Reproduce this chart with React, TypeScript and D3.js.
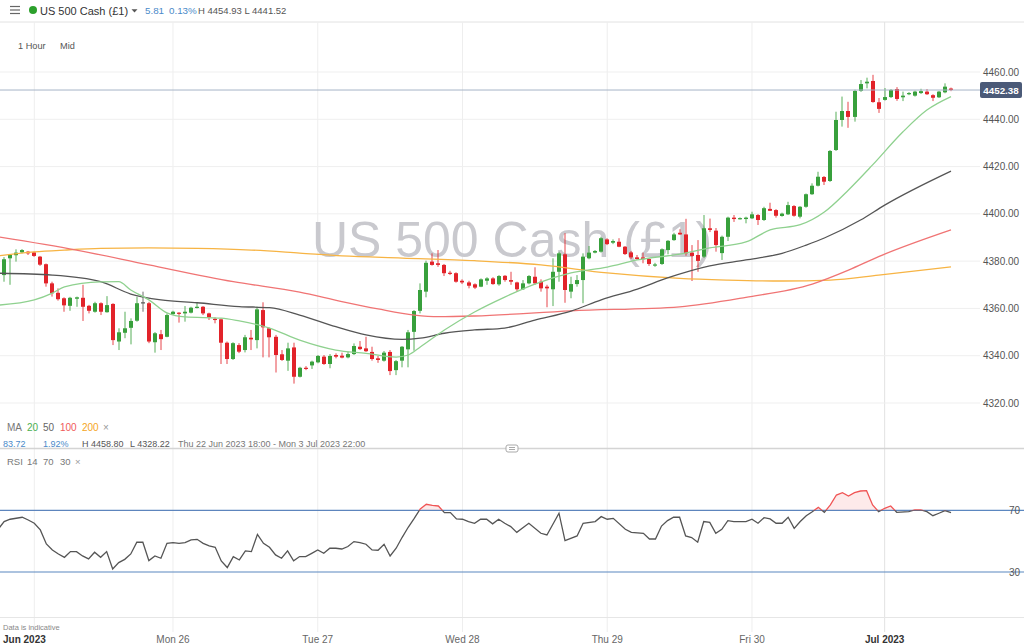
import React from "react";
import * as d3 from "d3";

const W = 1024;
const H = 644;

// Hourly candles, US 500 Cash (£1) — index 0..158
const openP = [4369.2,4374.1,4381.2,4382.5,4383.7,4384.0,4383.7,4381.9,4378.7,4370.6,4366.6,4364.3,4361.1,4364.1,4364.5,4361.1,4358.6,4362.2,4358.4,4361.9,4346.0,4349.7,4351.8,4354.8,4362.6,4362.2,4345.7,4349.1,4348.0,4357.6,4358.2,4357.9,4358.2,4360.2,4360.7,4357.9,4355.6,4355.4,4345.5,4338.6,4344.5,4342.4,4347.6,4346.6,4359.3,4351.6,4348.0,4340.6,4337.9,4343.5,4331.1,4334.9,4335.9,4337.2,4339.6,4336.5,4340.3,4340.0,4339.3,4340.7,4343.8,4343.1,4341.6,4338.9,4337.9,4341.6,4333.9,4337.9,4342.7,4350.1,4359.0,4367.1,4379.8,4379.1,4378.4,4375.1,4374.9,4371.7,4371.0,4370.2,4369.2,4371.7,4372.7,4370.2,4373.8,4372.0,4371.0,4368.1,4370.6,4373.4,4371.3,4369.2,4368.1,4375.5,4382.9,4367.1,4370.3,4372.0,4381.2,4383.6,4384.0,4389.2,4387.8,4388.2,4386.1,4383.7,4381.6,4381.6,4380.9,4378.2,4378.8,4384.7,4388.9,4392.0,4391.3,4383.6,4382.6,4381.9,4393.9,4392.9,4383.4,4390.3,4398.4,4398.0,4397.8,4398.1,4399.5,4397.4,4402.1,4401.6,4399.1,4399.8,4403.3,4398.8,4403.0,4408.3,4411.9,4415.6,4413.9,4427.0,4439.7,4443.5,4441.0,4452.0,4455.2,4456.2,4447.2,4448.2,4449.4,4452.8,4449.3,4450.7,4450.0,4451.1,4451.7,4450.2,4449.3,4451.4,4453.0];
const highP = [4374.1,4381.7,4383.0,4385.0,4385.1,4384.3,4384.0,4382.2,4379.0,4371.3,4368.5,4364.7,4364.9,4365.0,4370.0,4361.5,4362.8,4362.6,4365.2,4362.2,4351.6,4358.6,4355.8,4364.9,4367.1,4362.8,4350.0,4350.9,4357.9,4359.0,4358.4,4361.0,4360.7,4362.4,4361.0,4358.2,4356.2,4355.8,4346.0,4345.7,4345.3,4348.8,4350.9,4360.7,4362.6,4352.0,4348.8,4342.4,4345.5,4345.5,4335.3,4335.6,4337.9,4340.3,4340.3,4340.7,4341.0,4341.3,4341.7,4345.2,4346.2,4348.0,4343.8,4339.9,4342.0,4342.4,4338.2,4344.1,4350.9,4359.3,4370.6,4380.2,4383.3,4384.7,4378.8,4375.9,4375.3,4372.3,4371.7,4370.6,4372.7,4373.2,4373.2,4374.1,4374.1,4375.5,4371.3,4372.0,4374.1,4377.4,4372.3,4370.0,4381.2,4384.0,4391.8,4373.4,4374.1,4383.3,4386.4,4384.7,4390.3,4389.7,4389.2,4389.7,4386.4,4384.3,4382.6,4383.6,4381.2,4379.3,4385.4,4388.9,4392.0,4393.5,4397.9,4386.8,4388.9,4399.5,4398.0,4394.0,4390.8,4398.8,4399.5,4398.5,4398.8,4400.9,4399.9,4403.0,4404.7,4402.0,4400.5,4405.1,4403.7,4403.3,4408.6,4412.9,4417.8,4416.0,4427.0,4443.2,4449.6,4447.4,4452.5,4456.6,4457.6,4458.8,4449.0,4453.2,4452.8,4453.6,4451.7,4451.5,4452.1,4452.9,4452.8,4450.6,4452.0,4455.2,4453.4];
const lowP = [4367.8,4371.3,4370.0,4379.8,4383.3,4382.6,4381.8,4378.0,4369.2,4365.0,4363.3,4358.6,4359.0,4360.7,4354.7,4357.9,4358.2,4357.2,4358.2,4344.5,4342.4,4347.4,4344.8,4354.4,4358.6,4345.3,4341.3,4342.4,4347.8,4357.2,4354.0,4354.4,4357.9,4360.0,4357.2,4355.1,4353.7,4336.5,4336.5,4338.2,4341.1,4341.4,4342.4,4343.1,4339.3,4339.3,4332.9,4337.8,4333.6,4328.2,4330.8,4333.9,4334.4,4336.8,4336.1,4334.7,4338.9,4338.9,4338.9,4340.3,4342.4,4341.6,4337.9,4337.0,4337.5,4331.8,4331.8,4335.1,4335.1,4342.1,4357.9,4364.7,4378.1,4377.6,4373.7,4374.1,4370.9,4370.3,4368.5,4368.2,4369.0,4370.0,4370.0,4369.6,4371.3,4370.0,4367.1,4367.8,4370.2,4370.0,4367.1,4360.5,4361.0,4371.3,4362.4,4364.3,4369.2,4362.2,4380.8,4383.3,4383.6,4386.8,4387.2,4385.9,4382.6,4380.9,4380.5,4379.1,4378.0,4377.6,4378.4,4382.9,4388.6,4391.1,4382.3,4371.6,4375.5,4381.3,4392.3,4384.0,4380.5,4388.5,4396.6,4397.6,4396.0,4397.8,4395.3,4397.0,4401.2,4398.4,4398.8,4399.5,4398.8,4398.1,4402.6,4408.0,4411.6,4412.2,4413.5,4426.6,4436.9,4436.4,4439.0,4451.6,4453.1,4447.0,4442.7,4447.9,4449.0,4447.8,4447.7,4450.2,4449.6,4450.7,4450.3,4447.7,4449.0,4451.0,4451.9];
const closeP = [4373.4,4380.8,4382.6,4383.6,4384.7,4383.3,4382.2,4378.5,4370.6,4366.4,4363.9,4361.3,4364.5,4364.7,4360.7,4359.0,4362.2,4358.6,4361.4,4346.6,4349.9,4351.6,4354.7,4362.2,4362.6,4346.0,4349.5,4347.0,4357.2,4358.6,4357.9,4358.6,4360.3,4360.7,4357.9,4356.2,4355.4,4345.5,4338.6,4345.3,4341.7,4347.8,4346.9,4359.6,4352.0,4347.8,4340.3,4338.2,4343.1,4331.1,4334.9,4334.5,4337.5,4339.9,4336.5,4339.9,4339.6,4339.2,4340.7,4344.1,4342.8,4341.9,4338.6,4338.2,4341.3,4333.5,4337.7,4343.8,4349.9,4358.9,4367.8,4379.3,4378.4,4378.4,4374.9,4374.6,4371.3,4371.0,4369.6,4368.8,4372.3,4372.7,4370.3,4373.7,4372.0,4371.3,4368.1,4370.6,4373.7,4370.6,4368.5,4368.5,4375.5,4383.3,4367.8,4370.3,4372.0,4381.9,4383.6,4384.3,4389.7,4387.2,4388.5,4386.1,4383.0,4381.6,4380.9,4380.8,4378.8,4378.6,4385.0,4388.6,4391.3,4391.3,4383.3,4382.2,4380.1,4393.9,4393.2,4386.8,4390.3,4398.4,4397.8,4398.2,4398.4,4399.8,4397.4,4402.4,4401.3,4399.2,4400.1,4403.7,4399.2,4403.0,4408.3,4411.9,4415.7,4413.6,4426.6,4439.7,4443.5,4441.0,4452.0,4454.9,4455.9,4447.3,4444.4,4449.4,4452.4,4448.6,4450.0,4451.1,4451.7,4451.9,4450.6,4449.1,4451.7,4453.8,4452.4];

// Moving averages: [bar index, value]
const ma20: [number, number][] = [[0,4361.4],[6,4363.6],[9,4366.5],[11,4369.1],[17,4371.2],[20,4371.3],[22,4367.8],[25,4363.6],[28,4358.1],[31,4356.4],[37,4355.9],[40,4354.7],[45,4351.7],[50,4346.6],[56,4342.4],[61,4341.0],[66,4339.4],[68,4340.3],[70,4343.7],[74,4350.9],[79,4358.5],[84,4364.8],[89,4370.3],[95,4375.0],[101,4377.5],[106,4380.5],[113,4383.0],[118,4385.6],[124,4388.1],[128,4393.2],[133,4395.4],[137,4400.8],[141,4410.1],[145,4420.7],[150,4434.6],[154,4443.9],[158,4449.6]];
const ma50: [number, number][] = [[0,4374.9],[9,4374.1],[17,4371.3],[22,4366.1],[27,4363.6],[33,4362.4],[40,4360.8],[45,4360.3],[50,4357.2],[56,4352.3],[61,4348.8],[67,4346.9],[70,4347.4],[74,4349.5],[79,4350.9],[84,4351.7],[89,4355.1],[95,4358.9],[100,4363.6],[106,4368.2],[111,4372.9],[118,4378.0],[124,4380.5],[130,4383.3],[134,4386.8],[137,4389.8],[143,4397.4],[147,4403.7],[158,4418.1]];
const ma100: [number, number][] = [[0,4390.3],[13,4384.7],[25,4378.4],[39,4371.3],[50,4366.9],[57,4362.9],[63,4359.8],[69,4357.2],[73,4356.5],[79,4356.8],[95,4359.0],[113,4360.7],[124,4364.7],[135,4370.3],[141,4376.2],[146,4381.9],[158,4393.2]];
const ma200: [number, number][] = [[0,4382.2],[6,4383.9],[11,4384.7],[17,4385.4],[25,4385.6],[33,4385.4],[42,4384.7],[50,4383.4],[57,4382.2],[67,4381.3],[79,4380.2],[90,4378.4],[101,4375.0],[113,4372.7],[121,4372.0],[130,4371.6],[138,4372.0],[146,4374.1],[158,4377.6]];

// RSI(14): [bar index, value]
const rsi14: [number, number][] = [[0,57.7],[1,62.7],[2,64.2],[4,65.5],[5,63.7],[6,61.6],[7,57.3],[8,48.2],[9,44.3],[10,41.7],[11,39.5],[12,43.2],[13,43.2],[14,40.4],[15,38.5],[16,42.8],[17,39.5],[18,43.2],[19,32.0],[20,36.1],[21,38.2],[22,41.7],[23,49.3],[24,49.3],[25,37.4],[26,40.4],[27,38.9],[28,48.6],[29,49.0],[30,48.6],[31,49.0],[32,50.8],[33,51.2],[34,48.6],[35,46.9],[36,46.0],[37,37.2],[38,32.9],[39,40.0],[40,37.8],[41,43.7],[42,43.2],[43,54.4],[44,48.6],[45,46.0],[46,41.1],[47,38.9],[48,43.7],[49,37.2],[50,40.0],[51,40.0],[52,42.1],[53,44.3],[54,42.1],[55,45.4],[56,45.4],[57,44.9],[58,46.5],[59,49.7],[60,49.0],[61,48.0],[62,44.3],[63,44.1],[64,48.0],[65,40.4],[66,45.4],[67,52.5],[68,59.0],[69,64.8],[70,70.9],[71,73.9],[72,73.2],[73,72.8],[74,68.5],[75,68.5],[76,64.4],[77,64.2],[78,62.7],[79,61.6],[80,64.2],[81,64.2],[82,61.2],[83,64.2],[84,61.6],[85,59.4],[86,55.7],[88,61.6],[90,55.1],[91,54.0],[93,68.1],[94,50.3],[96,53.4],[97,61.6],[99,62.7],[100,65.9],[101,64.2],[102,64.8],[104,57.7],[105,55.7],[107,55.1],[108,51.4],[109,51.4],[110,59.8],[111,63.3],[112,65.5],[113,65.5],[114,53.4],[115,52.3],[116,49.3],[117,62.7],[118,62.2],[119,55.1],[120,57.7],[121,63.3],[122,62.7],[124,62.7],[125,64.2],[126,61.6],[127,65.2],[128,64.4],[129,61.6],[130,61.6],[131,65.5],[132,58.3],[133,62.7],[134,66.5],[135,69.1],[136,71.9],[137,68.7],[138,73.5],[139,79.9],[140,81.4],[141,79.3],[142,81.4],[143,82.5],[144,82.7],[145,73.5],[146,69.1],[147,71.3],[148,72.8],[149,68.7],[151,69.1],[152,70.2],[153,70.2],[154,69.1],[155,66.5],[156,68.1],[157,69.8],[158,68.5]];

const priceTicks = [4460, 4440, 4420, 4400, 4380, 4360, 4340, 4320];
const rsiLevels = [70, 30];
const dayIdx = [6, 29, 53, 77, 101, 125, 147];
const dayLabels = ["Jun 2023", "Mon 26", "Tue 27", "Wed 28", "Thu 29", "Fri 30", "Jul 2023"];
const lastPrice = 4452.38;

const GREEN = "#38a03c";
const RED = "#e2232a";
const FONT = "'Liberation Sans', Arial, sans-serif";

export default function App() {
  const x = d3.scaleLinear().domain([0, 158]).range([-1.9, 951]);
  const y = d3.scaleLinear().domain([4320, 4460]).range([403, 72]);
  const ry = d3.scaleLinear().domain([30, 70]).range([572, 510.3]);

  const maLine = d3
    .line<[number, number]>()
    .x((d) => x(d[0]))
    .y((d) => y(d[1]))
    .curve(d3.curveMonotoneX);
  const rsiLine = d3
    .line<[number, number]>()
    .x((d) => x(d[0]))
    .y((d) => ry(d[1]));
  const rsiArea = d3
    .area<[number, number]>()
    .x((d) => x(d[0]))
    .y0(ry(70))
    .y1((d) => ry(d[1]));

  const y70 = ry(70);

  return (
    <svg
      width={W}
      height={H}
      style={{ position: "absolute", left: 0, top: 0, background: "#fff", fontFamily: FONT }}
    >
      <defs>
        <clipPath id="plotClip">
          <rect x={0} y={23} width={980} height={400} />
        </clipPath>
        <clipPath id="above70">
          <rect x={0} y={455} width={1000} height={y70 - 455} />
        </clipPath>
        <clipPath id="below70">
          <rect x={0} y={y70} width={1000} height={620 - y70} />
        </clipPath>
      </defs>
      <rect x={0} y={0} width={W} height={H} fill="#fff" />

      {/* header */}
      {[6.5, 10, 13.5].map((yy) => (
        <line key={yy} x1={10} x2={20} y1={yy} y2={yy} stroke="#666" strokeWidth={1.2} />
      ))}
      <circle cx={33} cy={10} r={4} fill="#2ca02c" />
      <text x={40} y={14.5} fontSize={11} fontWeight={500} fill="#333">US 500 Cash (£1)</text>
      <path d="M131.5,9.2 L137.5,9.2 L134.5,12.6 Z" fill="#555" />
      <text x={145} y={14} fontSize={9.8} fill="#4a8ac9">5.81</text>
      <text x={169} y={14} fontSize={9.8} fill="#4a8ac9">0.13%</text>
      <text x={198} y={14} fontSize={9.5} fill="#555">H 4454.93 L 4441.52</text>
      <line x1={0} x2={W} y1={22} y2={22} stroke="#e2e2e2" />

      {/* vertical day gridlines */}
      {dayIdx.map((d, i) => (
        <line
          key={"v" + d}
          x1={x(d)}
          x2={x(d)}
          y1={22}
          y2={632}
          stroke={i === dayIdx.length - 1 ? "#e2e2e2" : "#eeeeee"}
        />
      ))}

      {/* horizontal price gridlines */}
      {priceTicks.map((t) => (
        <line key={"h" + t} x1={0} x2={980} y1={y(t)} y2={y(t)} stroke="#efefef" />
      ))}

      <text x={18} y={49} fontSize={9.2} fill="#555">1 Hour</text>
      <text x={60} y={49} fontSize={9.2} fill="#555">Mid</text>

      {/* watermark */}
      <text x={512} y={257} textAnchor="middle" fontSize={50} fill="#c9c9ce">US 500 Cash (£1)</text>

      <g clipPath="url(#plotClip)">
        {/* candles */}
        {openP.map((o, i) => {
          const c = closeP[i];
          const col = c === o ? "#555" : c > o ? GREEN : RED;
          const cx = Math.round(x(i));
          const top = y(Math.max(o, c));
          const bot = y(Math.min(o, c));
          return (
            <g key={"c" + i}>
              <line x1={cx} x2={cx} y1={y(highP[i])} y2={y(lowP[i])} stroke={col} strokeWidth={1} strokeOpacity={0.85} />
              <rect x={cx - 2} y={top} width={4} height={Math.max(1.2, bot - top)} fill={col} />
            </g>
          );
        })}

        {/* moving averages */}
        <path d={maLine(ma200) || ""} fill="none" stroke="#f7b444" strokeWidth={1.3} />
        <path d={maLine(ma100) || ""} fill="none" stroke="#f07474" strokeWidth={1.3} />
        <path d={maLine(ma50) || ""} fill="none" stroke="#555" strokeWidth={1.3} />
        <path d={maLine(ma20) || ""} fill="none" stroke="#8fd18f" strokeWidth={1.3} />
      </g>

      {/* last price line + label */}
      <line x1={0} x2={980} y1={y(lastPrice)} y2={y(lastPrice)} stroke="#a7b4c8" />
      <rect x={980} y={y(lastPrice) - 8} width={42} height={16} rx={2} fill="#4b5a78" />
      <text x={1001} y={y(lastPrice) + 3.5} textAnchor="middle" fontSize={9.8} fill="#fff" fontWeight={600}>
        {lastPrice.toFixed(2)}
      </text>

      {/* price axis labels */}
      {priceTicks.map((t) => (
        <text key={"pl" + t} x={983} y={y(t) + 3.5} fontSize={10} fill="#555">
          {t.toFixed(2)}
        </text>
      ))}

      {/* MA legend */}
      <g fontSize={10}>
        <text x={7} y={430.5} fill="#777">MA</text>
        <text x={27} y={430.5} fill="#4caf50">20</text>
        <text x={43} y={430.5} fill="#666">50</text>
        <text x={60} y={430.5} fill="#f05a5a">100</text>
        <text x={82} y={430.5} fill="#f5a623">200</text>
        <text x={103} y={430.5} fill="#999">×</text>
      </g>
      <g fontSize={9}>
        <text x={3} y={446.5} fill="#4a8ac9">83.72</text>
        <text x={43} y={446.5} fill="#4a8ac9">1.92%</text>
        <text x={82} y={446.5} fill="#555">H 4458.80</text>
        <text x={130} y={446.5} fill="#555">L 4328.22</text>
        <text x={178} y={446.5} fill="#777">Thu 22 Jun 2023 18:00 - Mon 3 Jul 2023 22:00</text>
      </g>

      {/* panel separator */}
      <line x1={0} x2={W} y1={448.5} y2={448.5} stroke="#d4d4d4" strokeWidth={1.5} />
      <rect x={506} y={445} width={12} height={7} rx={2} fill="#fff" stroke="#aaa" />
      <line x1={509} x2={515} y1={447.5} y2={447.5} stroke="#aaa" />
      <line x1={509} x2={515} y1={449.5} y2={449.5} stroke="#aaa" />

      {/* RSI legend */}
      <g fontSize={9.5} fill="#777">
        <text x={7} y={465}>RSI</text>
        <text x={27} y={465}>14</text>
        <text x={43} y={465}>70</text>
        <text x={60} y={465}>30</text>
        <text x={75} y={465} fill="#999">×</text>
      </g>

      {/* RSI levels */}
      {rsiLevels.map((l) => (
        <g key={"r" + l}>
          <line x1={0} x2={W} y1={ry(l)} y2={ry(l)} stroke="#5b87c0" strokeWidth={1.2} />
          <text x={1009} y={ry(l) + 3.5} fontSize={10} fill="#555">{l}</text>
        </g>
      ))}

      {/* RSI line */}
      <path d={rsiArea(rsi14) || ""} fill="rgba(240,90,90,0.13)" clipPath="url(#above70)" />
      <path d={rsiLine(rsi14) || ""} fill="none" stroke="#555" strokeWidth={1.3} clipPath="url(#below70)" />
      <path d={rsiLine(rsi14) || ""} fill="none" stroke="#f05555" strokeWidth={1.3} clipPath="url(#above70)" />

      {/* bottom axis */}
      <line x1={0} x2={W} y1={617.5} y2={617.5} stroke="#e6e6e6" />
      <text x={3} y={630} fontSize={7.5} fill="#888">Data is indicative</text>
      {dayIdx.map((d, i) => {
        const first = i === 0;
        const bold = dayLabels[i].includes("2023");
        return (
          <text
            key={"dl" + d}
            x={first ? 3 : x(d)}
            y={643}
            textAnchor={first ? "start" : "middle"}
            fontSize={10}
            fontWeight={bold ? 600 : 400}
            fill={bold ? "#333" : "#666"}
          >
            {dayLabels[i]}
          </text>
        );
      })}
    </svg>
  );
}
